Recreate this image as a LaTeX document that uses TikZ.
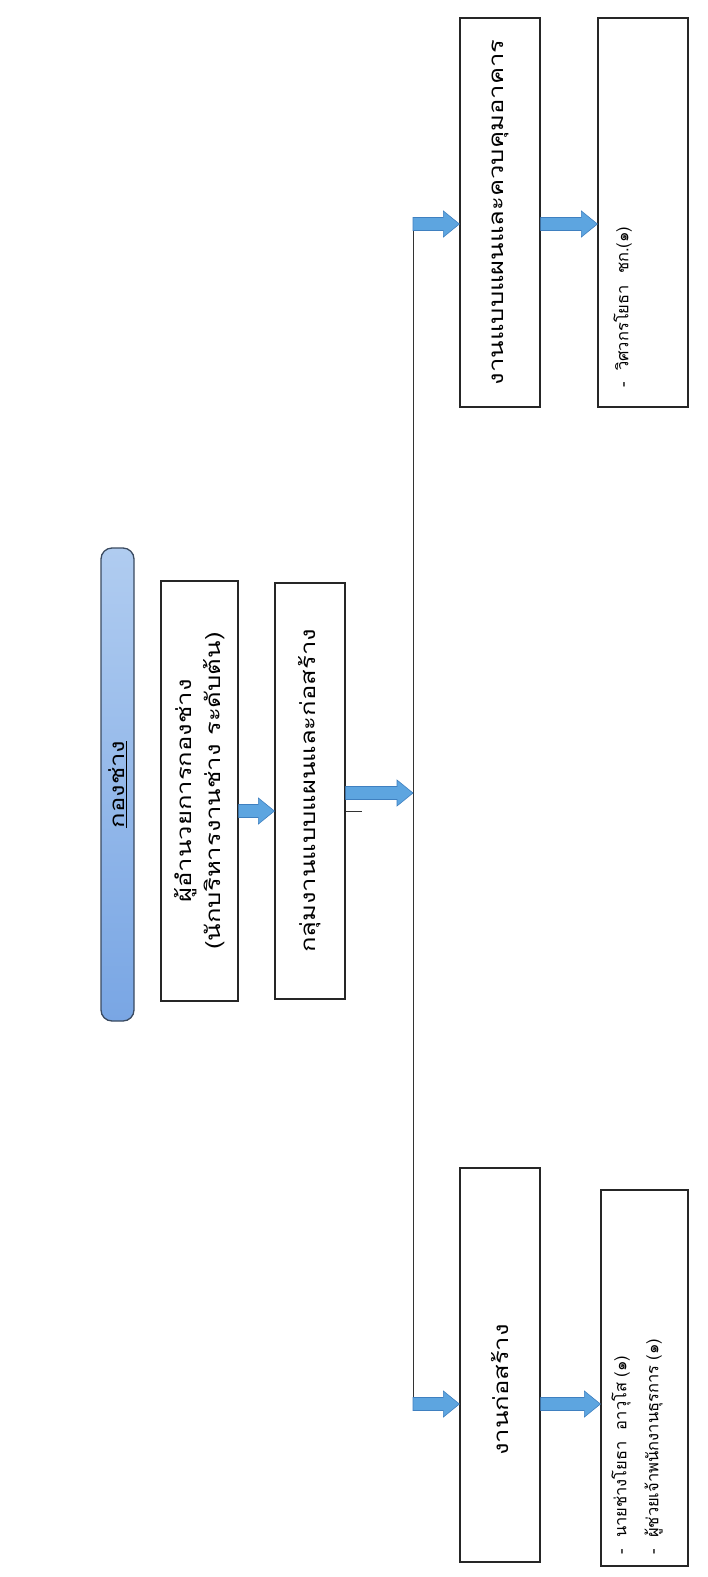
\documentclass[tikz,border=0pt]{standalone}
\usepackage{fontspec}
\newfontfamily\thaifont[Script=Thai]{Loma}
\newfontfamily\thaiwide[Script=Thai, FakeStretch=1.25]{Loma}
\usetikzlibrary{calc}
\definecolor{arrowfill}{HTML}{5DA5E0}
\definecolor{arrowedge}{HTML}{3F80C0}
\definecolor{titlelight}{HTML}{B0CCF0}
\definecolor{titledark}{HTML}{79A6E4}
\definecolor{titleedge}{HTML}{3A4A60}
% horizontal block arrow from a start point to a tip point (same height as the start)
\newcommand{\blockarrow}[2]{%
  \draw[arrowstyle] let \p1=#1, \p2=#2 in
    (\x1,\y1+6.5pt) -- (\x2-16pt,\y1+6.5pt) -- (\x2-16pt,\y1+13pt) -- (\x2,\y1)
    -- (\x2-16pt,\y1-13pt) -- (\x2-16pt,\y1-6.5pt) -- (\x1,\y1-6.5pt) -- cycle;}
\begin{document}
\begin{tikzpicture}[x=1pt,y=-1pt,
  font=\thaiwide\fontsize{20.5}{29}\selectfont,
  box/.style={draw=black!85, line width=1.2pt, rotate=90, inner sep=0pt, align=center},
  titlebox/.style={draw=titleedge, line width=1.3pt, rounded corners=11pt,
    top color=titlelight, bottom color=titledark, rotate=90, inner sep=0pt},
  listtext/.style={rotate=90, anchor=north west, inner sep=0pt, align=left,
    font=\thaifont\fontsize{16.5}{32}\selectfont},
  arrowstyle/.style={draw=arrowedge, fill=arrowfill, line width=0.6pt},
  link/.style={draw=black!80, line width=1pt}]
\useasboundingbox (0,0) rectangle (707,1577);

% title and management boxes
\node[titlebox, minimum width=473pt, minimum height=33pt] (title) at (117.5,784.5) {\underline{กองช่าง}};
\node[box, minimum width=420pt, minimum height=77pt] (dir) at (199.5,791)
  {ผู้อำนวยการกองช่าง\\(นักบริหารงานช่าง ระดับต้น)};
\node[box, minimum width=416pt, minimum height=70pt] (grp) at (310,791) {กลุ่มงานแบบแผนและก่อสร้าง};

% sections
\node[box, minimum width=389pt, minimum height=80pt] (plan) at (500,212.5) {งานแบบแผนและควบคุมอาคาร};
\node[box, minimum width=389pt, minimum height=90pt] (eng) at (643,212.5) {};
\node[box, minimum width=394pt, minimum height=80pt] (build) at (500,1365) {};
\node[rotate=90, inner sep=0pt] (buildtext) at ($(build.center)+(0,25)$) {งานก่อสร้าง};
\node[box, minimum width=376pt, minimum height=87pt] (staff) at (644.5,1378) {};

% staff lists
\node[listtext] (engtext) at ($(eng.north west)+(16,-20)$) {-\ \ วิศวกรโยธา\ \ ชก.(๑)};
\node[listtext] (stafftext) at ($(staff.north west)+(11,-12)$)
  {-\ \ นายช่างโยธา\ \ อาวุโส (๑)\\-\ \ ผู้ช่วยเจ้าพนักงานธุรการ (๑)};

% trunk line
\coordinate (trunktop) at (413,224);
\coordinate (trunkbot) at (413,1404);
\draw[link] (trunktop) -- (trunkbot);

% small tick beside the group box
\coordinate (tickend) at (362,811);
\draw[link] (grp.south |- tickend) -- (tickend);

% block arrows
\coordinate (yAB) at (0,811);
\coordinate (yBT) at (0,793);
\blockarrow{(dir.south |- yAB)}{(grp.north |- yAB)}
\blockarrow{(grp.south |- yBT)}{(trunktop |- yBT)}
\blockarrow{(trunktop)}{(plan.north |- trunktop)}
\blockarrow{(plan.south |- trunktop)}{(eng.north |- trunktop)}
\blockarrow{(trunkbot)}{(build.north |- trunkbot)}
\blockarrow{(build.south |- trunkbot)}{(staff.north |- trunkbot)}
\end{tikzpicture}
\end{document}
